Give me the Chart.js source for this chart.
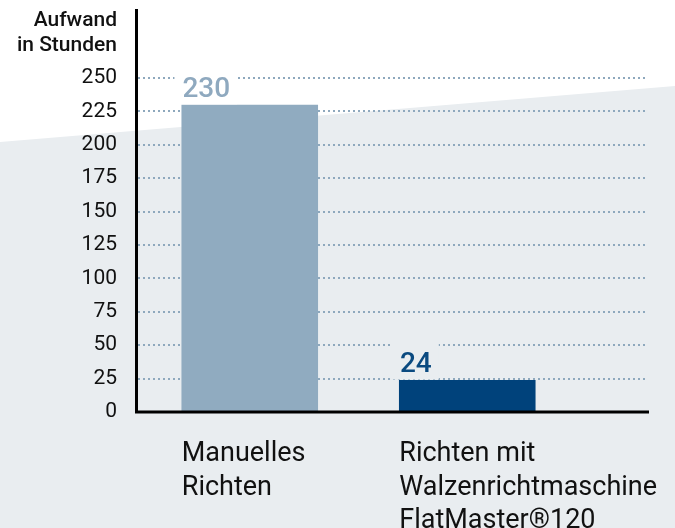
<!DOCTYPE html>
<html>
<head>
<meta charset="utf-8">
<script src="https://cdn.jsdelivr.net/npm/chart.js@4/dist/chart.umd.min.js"></script>
<style>
  html, body { margin: 0; padding: 0; background: #ffffff; }
  #wrap { width: 675px; height: 528px; position: relative; }
</style>
</head>
<body>
<div id="wrap"><canvas id="c" width="675" height="528"></canvas></div>
<script>
// ---- data ----
const categories = [["Manuelles", "Richten"], ["Richten mit", "Walzenrichtmaschine", "FlatMaster®120"]];
const hours = [230, 24];
const yTickMin = 0;
const yTickMax = 250;
const yTickStep = 25;
const yTitle = ["Aufwand", "in Stunden"];

// ---- styles ----
const barColors = ["#90abc0", "#00427b"];
const labelColors = ["#8fa9bf", "#0a4a80"];
const gridColor = "#8ea8bd";
const bgGray = "#e9edf0";
const FONT = "Roboto, 'Open Sans', sans-serif";

function isGray(x, y) { return y > 142 - (56 / 675) * x; }

const decor = {
  id: "decor",
  beforeDraw(chart) {
    const ctx = chart.ctx;
    ctx.save();
    ctx.fillStyle = "#ffffff";
    ctx.fillRect(0, 0, chart.width, chart.height);
    ctx.fillStyle = bgGray;
    ctx.beginPath();
    ctx.moveTo(0, 142);
    ctx.lineTo(675, 86);
    ctx.lineTo(675, 528);
    ctx.lineTo(0, 528);
    ctx.closePath();
    ctx.fill();
    ctx.restore();
  },
  beforeDatasetsDraw(chart) {
    const ctx = chart.ctx;
    const y = chart.scales.y;
    ctx.save();
    ctx.strokeStyle = gridColor;
    ctx.lineWidth = 2;
    ctx.setLineDash([2, 3]);
    y.ticks.forEach(t => {
      if (t.value === 0) return;
      const py = Math.round(y.getPixelForValue(t.value));
      ctx.beginPath();
      ctx.moveTo(138, py);
      ctx.lineTo(647, py);
      ctx.stroke();
    });
    ctx.restore();
  },
  afterDatasetsDraw(chart) {
    const ctx = chart.ctx;
    const meta = chart.getDatasetMeta(0);
    ctx.save();
    ctx.font = "500 28px " + FONT;
    ctx.textAlign = "left";
    ctx.textBaseline = "alphabetic";
    meta.data.forEach((bar, i) => {
      const props = bar.getProps(["x", "y", "width"], true);
      const left = props.x - props.width / 2;
      const txt = String(hours[i]);
      const w = ctx.measureText(txt).width;
      const baseY = props.y - 8;
      const boxX = left - 7, boxY = baseY - 29, boxW = w + 15, boxH = props.y - boxY - 0.5;
      ctx.fillStyle = isGray(boxX, boxY) ? bgGray : "#ffffff";
      ctx.fillRect(boxX, boxY, boxW, boxH);
      ctx.fillStyle = labelColors[i];
      ctx.fillText(txt, left + 1, baseY);
    });
    // axes
    const y = chart.scales.y;
    const zero = y.getPixelForValue(0);
    ctx.strokeStyle = "#000000";
    ctx.lineWidth = 3;
    ctx.setLineDash([]);
    ctx.beginPath();
    ctx.moveTo(136.5, 9);
    ctx.lineTo(136.5, zero + 1.5);
    ctx.moveTo(135, zero);
    ctx.lineTo(649, zero);
    ctx.stroke();
    // y title
    ctx.fillStyle = "#111111";
    ctx.font = "500 21px " + FONT;
    ctx.textAlign = "right";
    ctx.textBaseline = "middle";
    ctx.fillText(yTitle[0], 117, 21);
    ctx.fillText(yTitle[1], 117, 46);
    ctx.restore();
  }
};

new Chart(document.getElementById("c"), {
  type: "bar",
  data: {
    labels: categories,
    datasets: [{
      data: hours,
      backgroundColor: barColors,
      borderWidth: 0,
      barPercentage: 0.628,
      categoryPercentage: 1.0
    }]
  },
  options: {
    responsive: false,
    devicePixelRatio: 1,
    animation: false,
    layout: { padding: { left: 0, right: 99, top: 78, bottom: 0 } },
    plugins: { legend: { display: false }, tooltip: { enabled: false } },
    scales: {
      x: {
        border: { display: false },
        grid: { display: false, drawTicks: false },
        ticks: {
          align: "start",
          labelOffset: -68,
          padding: 26,
          color: "#111111",
          font: { family: FONT, size: 27, weight: "400", lineHeight: 1.24 },
          maxRotation: 0,
          autoSkip: false
        },
        afterFit(s) { s.height = 116; s.paddingLeft = 0; s.paddingRight = 0; }
      },
      y: {
        min: yTickMin,
        max: yTickMax,
        border: { display: false },
        grid: { display: false, drawTicks: false },
        ticks: {
          stepSize: yTickStep,
          padding: 24,
          color: "#111111",
          font: { family: FONT, size: 21, weight: "400" }
        },
        afterFit(s) { s.width = 141; s.paddingTop = 0; s.paddingBottom = 0; }
      }
    }
  },
  plugins: [decor]
});
</script>
</body>
</html>
